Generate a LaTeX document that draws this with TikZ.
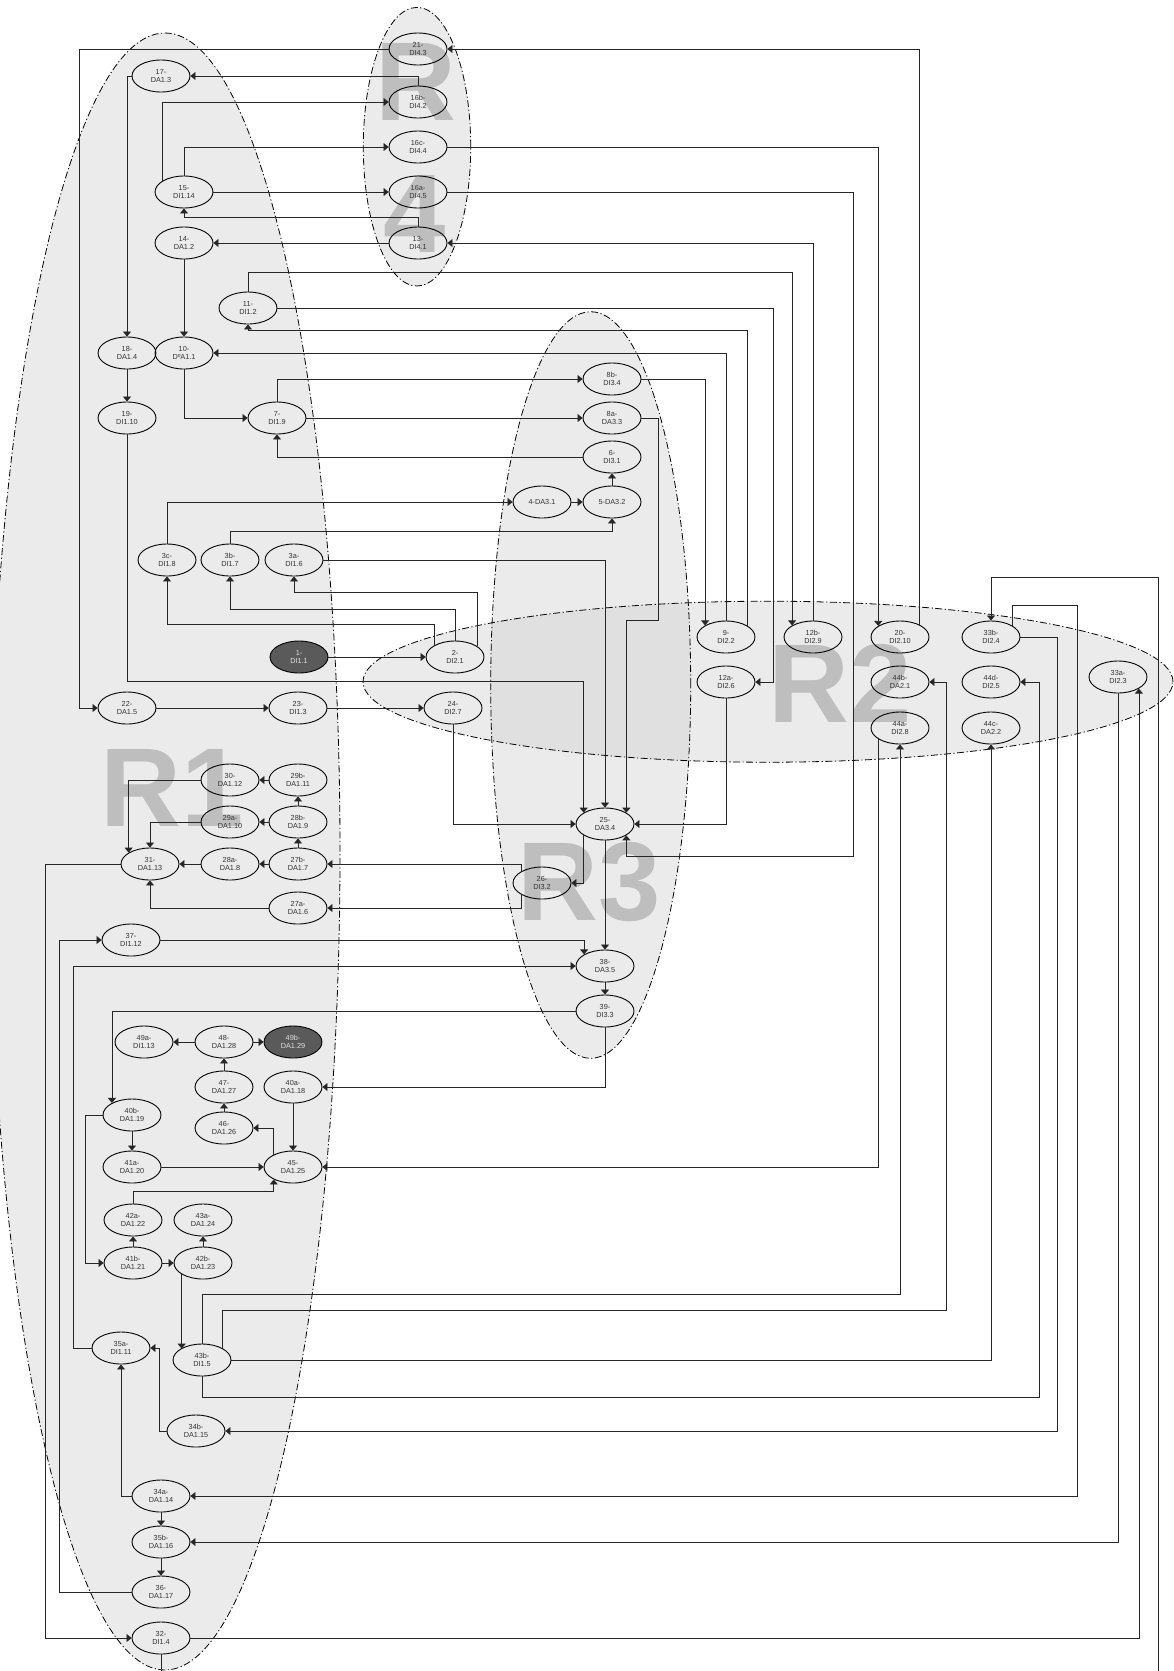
\documentclass[tikz,border=0pt]{standalone}
\usepackage{fontspec}
\setmainfont{Liberation Sans}
\usetikzlibrary{arrows.meta,shapes.geometric,calc}
\definecolor{regfill}{HTML}{EBEBEB}
\definecolor{regover}{HTML}{E0E0E0}
\definecolor{bigtxt}{HTML}{BEBEBE}
\definecolor{lin}{HTML}{262626}
\definecolor{txt}{HTML}{333333}
\definecolor{dark}{HTML}{5A5A5A}
\begin{document}
\begin{tikzpicture}[x=1pt,y=-1pt,
  st/.style={ellipse, draw=black, line width=0.9pt, minimum width=58pt, minimum height=32pt,
    inner sep=0pt, align=center, font=\fontsize{7.3}{8.5}\selectfont, text=txt},
  dk/.style={st, fill=dark, text=white!88!black},
  arr/.style={draw=lin, line width=0.8pt, -{Triangle[length=5pt,width=8pt]}},
  reg/.style={draw=black, line width=0.8pt, dash pattern=on 7pt off 2.5pt on 1.2pt off 2.5pt},
  big/.style={text=bigtxt, font=\fontsize{112}{112}\selectfont\bfseries, inner sep=0pt}]
\useasboundingbox (0,0) rectangle (1174,1671);
\clip (0,0) rectangle (1174,1671);
\fill[white] (0,0) rectangle (1174,1671);
% regions
\fill[regfill] (165,851.5) ellipse [x radius=175pt, y radius=818.5pt];
\fill[regfill] (768,681.7) ellipse [x radius=405pt, y radius=80.5pt];
\fill[regfill] (590.7,685) ellipse [x radius=100pt, y radius=373.3pt];
\fill[regfill] (417,146.7) ellipse [x radius=53.7pt, y radius=139.3pt];
\begin{scope}
  \clip (590.7,685) ellipse [x radius=100pt, y radius=373.3pt];
  \fill[regover] (768,681.7) ellipse [x radius=405pt, y radius=80.5pt];
\end{scope}
\draw[reg] (165,851.5) ellipse [x radius=175pt, y radius=818.5pt];
\draw[reg] (768,681.7) ellipse [x radius=405pt, y radius=80.5pt];
\draw[reg] (590.7,685) ellipse [x radius=100pt, y radius=373.3pt];
\draw[reg] (417,146.7) ellipse [x radius=53.7pt, y radius=139.3pt];
\node[big] (lr1) at (172,788) {R1};
\node[big] (lr2) at (840,683) {R2};
\node[big] (lr3) at (589,882.5) {R3};
\node[big] (lr4a) at (416,82) {R};
\node[big] (lr4b) at (415,214) {4};
% nodes
\node[st] (n21) at (418,49) {21-\\DI4.3};
\node[st] (n17) at (161,76) {17-\\DA1.3};
\node[st] (n16b) at (418,102) {16b-\\DI4.2};
\node[st] (n16c) at (418,147) {16c-\\DI4.4};
\node[st] (n15) at (184,192) {15-\\DI1.14};
\node[st] (n16a) at (418,192) {16a-\\DI4.5};
\node[st] (n14) at (184,243) {14-\\DA1.2};
\node[st] (n13) at (418,243) {13-\\DI4.1};
\node[st] (n11) at (248,308) {11-\\DI1.2};
\node[st] (n18) at (127,353) {18-\\DA1.4};
\node[st] (n10) at (184,353) {10-\\DºA1.1};
\node[st] (n8b) at (612,379) {8b-\\DI3.4};
\node[st] (n19) at (127,418) {19-\\DI1.10};
\node[st] (n7) at (277,418) {7-\\DI1.9};
\node[st] (n8a) at (612,418) {8a-\\DA3.3};
\node[st] (n6) at (612,457) {6-\\DI3.1};
\node[st] (n4) at (542,502) {4-DA3.1};
\node[st] (n5) at (612,502) {5-DA3.2};
\node[st] (n3c) at (167,560) {3c-\\DI1.8};
\node[st] (n3b) at (230,560) {3b-\\DI1.7};
\node[st] (n3a) at (294,560) {3a-\\DI1.6};
\node[st] (n9) at (726,637) {9-\\DI2.2};
\node[st] (n12b) at (813,637) {12b-\\DI2.9};
\node[st] (n20) at (900,637) {20-\\DI2.10};
\node[st] (n33b) at (991,637) {33b-\\DI2.4};
\node[dk] (n1) at (299,657) {1-\\DI1.1};
\node[st] (n2) at (455,657) {2-\\DI2.1};
\node[st] (n12a) at (726,682) {12a-\\DI2.6};
\node[st] (n44b) at (900,682) {44b-\\DA2.1};
\node[st] (n44d) at (991,682) {44d-\\DI2.5};
\node[st] (n33a) at (1118,677) {33a-\\DI2.3};
\node[st] (n22) at (127,708) {22-\\DA1.5};
\node[st] (n23) at (298,708) {23-\\DI1.3};
\node[st] (n24) at (453,708) {24-\\DI2.7};
\node[st] (n44a) at (900,728) {44a-\\DI2.8};
\node[st] (n44c) at (991,728) {44c-\\DA2.2};
\node[st] (n30) at (230,780) {30-\\DA1.12};
\node[st] (n29b) at (298,780) {29b-\\DA1.11};
\node[st] (n29a) at (230,822) {29a-\\DA1.10};
\node[st] (n28b) at (298,822) {28b-\\DA1.9};
\node[st] (n25) at (605,824) {25-\\DA3.4};
\node[st] (n31) at (150,864) {31-\\DA1.13};
\node[st] (n28a) at (230,864) {28a-\\DA1.8};
\node[st] (n27b) at (298,864) {27b-\\DA1.7};
\node[st] (n26) at (542,883) {26-\\DI3.2};
\node[st] (n27a) at (298,908) {27a-\\DA1.6};
\node[st] (n37) at (131,940) {37-\\DI1.12};
\node[st] (n38) at (605,966) {38-\\DA3.5};
\node[st] (n39) at (605,1011) {39-\\DI3.3};
\node[st] (n49a) at (144,1042) {49a-\\DI1.13};
\node[st] (n48) at (224,1042) {48-\\DA1.28};
\node[dk] (n49b) at (293,1042) {49b-\\DA1.29};
\node[st] (n47) at (224,1087) {47-\\DA1.27};
\node[st] (n40a) at (293,1087) {40a-\\DA1.18};
\node[st] (n40b) at (132,1115) {40b-\\DA1.19};
\node[st] (n46) at (224,1128) {46-\\DA1.26};
\node[st] (n41a) at (132,1167) {41a-\\DA1.20};
\node[st] (n45) at (293,1167) {45-\\DA1.25};
\node[st] (n42a) at (133,1220) {42a-\\DA1.22};
\node[st] (n43a) at (203,1220) {43a-\\DA1.24};
\node[st] (n41b) at (133,1263) {41b-\\DA1.21};
\node[st] (n42b) at (203,1263) {42b-\\DA1.23};
\node[st] (n35a) at (121,1348) {35a-\\DI1.11};
\node[st] (n43b) at (202,1360) {43b-\\DI1.5};
\node[st] (n34b) at (196,1431) {34b-\\DA1.15};
\node[st] (n34a) at (161,1496) {34a-\\DA1.14};
\node[st] (n35b) at (161,1542) {35b-\\DA1.16};
\node[st] (n36) at (161,1592) {36-\\DA1.17};
\node[st] (n32) at (161,1638) {32-\\DI1.4};
% connectors
\draw[arr] (n20.32) |- (n21.east);
\draw[arr] (n21.west) -- (79,0 |- n21.west) |- (n22.west);
\draw[arr] (n16b.north) |- (n17.east);
\draw[arr] (n17.west) -| (n18.north);
\draw[arr] (n15.152) |- (n16b.west);
\draw[arr] (n15.north) |- (n16c.west);
\draw[arr] (n15.east) -- (n16a.west);
\draw[arr] (n13.north) -- (n13.north |- 0,217) -| (n15.south);
\draw[arr] (n13.west) -- (n14.east);
\draw[arr] (n16c.east) -| (n20.153);
\draw[arr] (n16a.east) -| (853,856) -| (n25.332);
\draw[arr] (n12b.north) |- (n13.east);
\draw[arr] (n11.north) |- (n12b.151 |- 0,272) -- (n12b.151);
\draw[arr] (n11.east) -| (773,0 |- n12a.east) -- (n12a.east);
\draw[arr] (n9.28) |- (n11.south |- 0,330) -- (n11.south);
\draw[arr] (n9.north) |- (n10.east);
\draw[arr] (n8b.east) -| (n9.151);
\draw[arr] (n7.north) |- (n8b.west);
\draw[arr] (n7.east) -- (n8a.west);
\draw[arr] (n8a.east) -| (658,620) -| (n25.28);
\draw[arr] (n6.west) -| (n7.south);
\draw[arr] (n5.north) -- (n6.south);
\draw[arr] (n4.east) -- (n5.west);
\draw[arr] (n3c.north) |- (n4.west);
\draw[arr] (n3b.north) |- (n5.south |- 0,531) -- (n5.south);
\draw[arr] (n3a.east) -| (n25.north);
\draw[arr] (n2.26) |- (n3a.south |- 0,592) -- (n3a.south);
\draw[arr] (n2.north) |- (n3b.south |- 0,609) -- (n3b.south);
\draw[arr] (n2.151) |- (n3c.south |- 0,624) -- (n3c.south);
\draw[arr] (n1.east) -- (n2.west);
\draw[arr] (n19.south) |- (n25.152 |- 0,681) -- (n25.152);
\draw[arr] (n18.south) -- (n19.north);
\draw[arr] (n14.south) -- (n10.north);
\draw[arr] (n10.south) |- (n7.west);
\draw[arr] (n22.east) -- (n23.west);
\draw[arr] (n23.east) -- (n24.west);
\draw[arr] (n24.south) |- (n25.west);
\draw[arr] (n12a.south) |- (n25.east);
\draw[arr] (n25.208) |- (n26.east);
\draw[arr] (n25.south) -- (n38.north);
\draw[arr] (n26.151) |- (n27b.east);
\draw[arr] (n26.209) |- (n27a.east);
\draw[arr] (n27b.west) -- (n28a.east);
\draw[arr] (n28a.west) -- (n31.east);
\draw[arr] (n27b.north) -- (n28b.south);
\draw[arr] (n28b.west) -- (n29a.east);
\draw[arr] (n28b.north) -- (n29b.south);
\draw[arr] (n29b.west) -- (n30.east);
\draw[arr] (n30.west) -| (n31.152);
\draw[arr] (n29a.west) -| (n31.north);
\draw[arr] (n27a.west) -| (n31.south);
\draw[arr] (n31.west) -| (45,0 |- n32.west) -- (n32.west);
\draw[arr] (n37.east) -| (n38.151);
\draw[arr] (n36.west) -| (59,0 |- n37.west) -- (n37.west);
\draw[arr] (n35a.west) -| (73,0 |- n38.west) -- (n38.west);
\draw[arr] (n38.south) -- (n39.north);
\draw[arr] (n39.west) -| (n40b.149);
\draw[arr] (n39.south) |- (n40a.east);
\draw[arr] (n40a.south) -- (n45.north);
\draw[arr] (n48.west) -- (n49a.east);
\draw[arr] (n48.east) -- (n49b.west);
\draw[arr] (n47.north) -- (n48.south);
\draw[arr] (n46.north) -- (n47.south);
\draw[arr] (n45.149) |- (n46.east);
\draw[arr] (n40b.south) -- (n41a.north);
\draw[arr] (n41a.east) -- (n45.west);
\draw[arr] (n42a.north) |- (n45.213 |- 0,1191) -- (n45.213);
\draw[arr] (n41b.north) -- (n42a.south);
\draw[arr] (n41b.east) -- (n42b.west);
\draw[arr] (n42b.north) -- (n43a.south);
\draw[arr] (n40b.west) -| (85,0 |- n41b.west) -- (n41b.west);
\draw[arr] (n42b.208) -- (n42b.208 |- n43b.152);
\draw[arr] (n43b.north) |- (n44a.south |- 0,1294) -- (n44a.south);
\draw[arr] (n43b.31) |- (946,1310) |- (n44b.east);
\draw[arr] (n43b.east) -| (n44c.south);
\draw[arr] (n43b.south) |- (1039,1397) |- (n44d.east);
\draw[arr] (n33b.east) -| (1057,0 |- n34b.east) -- (n34b.east);
\draw[arr] (n34b.west) -| (159,0 |- n35a.east) -- (n35a.east);
\draw[arr] (n34a.west) -| (n35a.south);
\draw[arr] (n34a.south) -- (n35b.north);
\draw[arr] (n35b.south) -- (n36.north);
\draw[arr] (n33b.28) |- (1077,605) |- (n34a.east);
\draw[arr] (n32.south) |- (1158,1700) |- (n33b.north |- 0,577) -- (n33b.north);
\draw[arr] (n33a.south) |- (n35b.east);
\draw[arr] (n32.east) -| (n33a.331);
\draw[arr] (n44a.207) |- (n45.east);
\end{tikzpicture}
\end{document}
